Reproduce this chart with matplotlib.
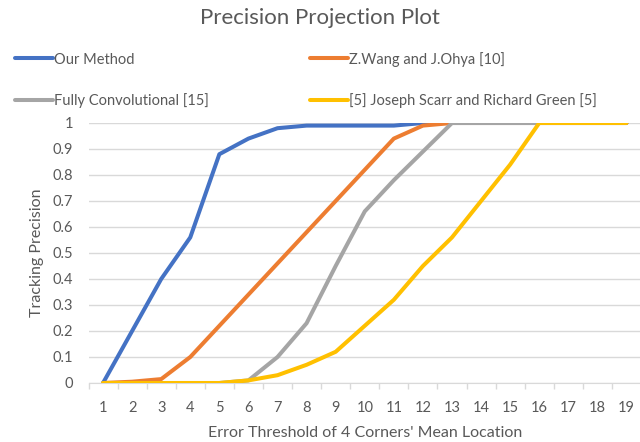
import matplotlib.pyplot as plt

plt.rcParams['font.family'] = ['Lato', 'DejaVu Sans']

# Error thresholds (x categories)
thresholds = list(range(1, 20))

# Tracking precision per method
our_method = [0, 0.2, 0.4, 0.56, 0.88, 0.94, 0.98, 0.99, 0.99, 0.99,
              0.99, 1, 1, 1, 1, 1, 1, 1, 1]
wang_ohya = [0, 0.005, 0.015, 0.1, 0.22, 0.34, 0.46, 0.58, 0.70, 0.82,
             0.94, 0.99, 1, 1, 1, 1, 1, 1, 1]
fully_conv = [0, 0, 0, 0, 0, 0.01, 0.1, 0.23, 0.45, 0.66,
              0.78, 0.89, 1, 1, 1, 1, 1, 1, 1]
scarr_green = [0, 0, 0, 0, 0, 0.01, 0.03, 0.07, 0.12, 0.22,
               0.32, 0.45, 0.56, 0.70, 0.84, 1, 1, 1, 1]

labels = ['Our Method', 'Z.Wang and J.Ohya [10]',
          'Fully Convolutional [15]', '[5] Joseph Scarr and Richard Green [5]']
colors = ['#4472C4', '#ED7D31', '#A5A5A5', '#FFC000']
series = [our_method, wang_ohya, fully_conv, scarr_green]

text_color = '#595959'

fig = plt.figure(figsize=(6.4, 4.42), dpi=100)
ax = fig.add_axes([88.5 / 640, 59 / 442, (641 - 88.5) / 640, 260 / 442])

lines = []
for vals, col, lab in zip(series, colors, labels):
    ln, = ax.plot(thresholds, vals, color=col, lw=2.9, label=lab,
                  solid_capstyle='round', solid_joinstyle='round')
    lines.append(ln)

ax.set_xlim(0.5, 19.5)
ax.set_ylim(0, 1)
ax.set_yticks([i / 10 for i in range(11)])
ax.set_yticklabels(['0', '0.1', '0.2', '0.3', '0.4', '0.5', '0.6', '0.7',
                    '0.8', '0.9', '1'])
ax.set_xticks(thresholds)
ax.set_xticks([t + 0.5 for t in range(0, 20)], minor=True)
ax.tick_params(axis='x', which='major', length=0, pad=13,
               labelsize=10.5, labelcolor=text_color)
ax.tick_params(axis='x', which='minor', length=4, color='#D9D9D9', width=1)
ax.tick_params(axis='y', length=0, pad=11, labelsize=10.5, labelcolor=text_color)
ax.grid(axis='y', color='#D9D9D9', lw=1)
ax.set_axisbelow(True)
for s in ['top', 'right', 'left']:
    ax.spines[s].set_visible(False)
ax.spines['bottom'].set_color('#D9D9D9')
ax.spines['bottom'].set_zorder(0.5)

ax.set_xlabel("Error Threshold of 4 Corners' Mean Location", fontsize=11.5,
              color=text_color, labelpad=8)
ax.set_ylabel('Tracking Precision', fontsize=11.5, color=text_color, labelpad=6)

fig.suptitle('Precision Projection Plot', fontsize=16, color=text_color,
             x=0.5, y=0.982, va='top')

# legend: row 1 = blue, orange; row 2 = gray, yellow
order = [0, 2, 1, 3]
leg = fig.legend([lines[i] for i in order], [labels[i] for i in order],
                 ncol=2, loc='upper left', bbox_to_anchor=(0.003, 0.913),
                 frameon=False, fontsize=10.5, handlelength=2.6,
                 handletextpad=0.1, columnspacing=6.9, labelspacing=1.8)
for t in leg.get_texts():
    t.set_color(text_color)

fig.savefig('out.png', dpi=100)
